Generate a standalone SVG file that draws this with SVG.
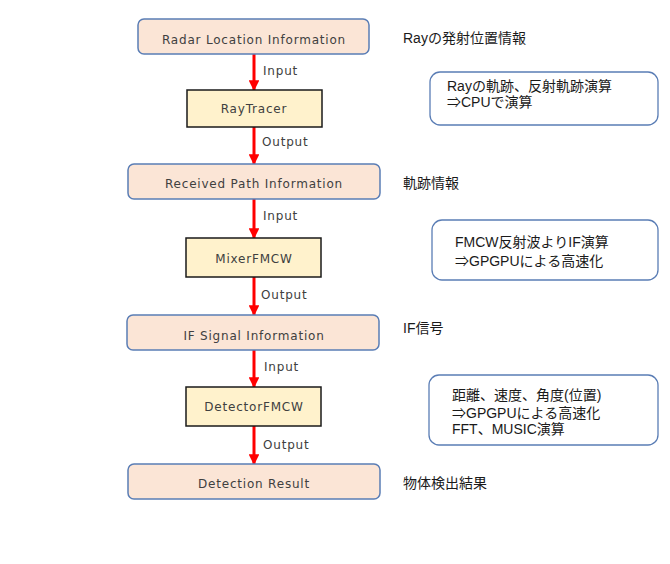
<svg xmlns="http://www.w3.org/2000/svg" width="670" height="564" viewBox="0 0 670 564">
<defs>
<style>
.data{fill:#FBE5D6;stroke:#5A7DB5;stroke-width:1.5}
.proc{fill:#FFF2CC;stroke:#1a1a1a;stroke-width:1.5}
.note{fill:#ffffff;stroke:#5A7DB5;stroke-width:1.3}
.nt{font-family:"DejaVu Sans",Verdana,sans-serif;font-size:12px;letter-spacing:0.8px;fill:#404040;text-anchor:middle}
.lbl{font-family:"DejaVu Sans",Verdana,sans-serif;font-size:12px;letter-spacing:0.8px;fill:#404040}
.jp{font-family:"Liberation Sans","Noto Sans CJK JP",sans-serif;font-size:14px;fill:#1a1a1a}
.arr{stroke:#FF0000;stroke-width:3;fill:none;marker-end:url(#ah)}
</style>
<marker id="ah" viewBox="0 0 10 10" refX="9" refY="5" markerWidth="3.6" markerHeight="3.6" markerUnits="strokeWidth" orient="auto">
<path d="M0,0 L10,5 L0,10 Z" fill="#FF0000"/>
</marker>
</defs>
<rect width="670" height="564" fill="#ffffff"/>
<g id="connectors">
<line class="arr" x1="254" y1="54" x2="254" y2="90"/>
<line class="arr" x1="254" y1="127" x2="254" y2="164"/>
<line class="arr" x1="254" y1="199" x2="254" y2="238"/>
<line class="arr" x1="254" y1="277" x2="254" y2="315"/>
<line class="arr" x1="254" y1="350" x2="254" y2="387"/>
<line class="arr" x1="254" y1="426" x2="254" y2="464"/>
<text class="lbl" x="263" y="75">Input</text>
<text class="lbl" x="262" y="146">Output</text>
<text class="lbl" x="263" y="220">Input</text>
<text class="lbl" x="261" y="299">Output</text>
<text class="lbl" x="264" y="371">Input</text>
<text class="lbl" x="263" y="449">Output</text>
</g>
<g id="radar-location">
<rect class="data" x="138" y="19" width="231" height="35" rx="6"/>
<text class="nt" x="254" y="44">Radar Location Information</text>
</g>
<g id="raytracer">
<rect class="proc" x="187" y="90" width="135" height="37"/>
<text class="nt" x="254" y="113">RayTracer</text>
</g>
<g id="received-path">
<rect class="data" x="128" y="164" width="252" height="35" rx="6"/>
<text class="nt" x="254" y="188">Received Path Information</text>
</g>
<g id="mixer">
<rect class="proc" x="186" y="238" width="135" height="39"/>
<text class="nt" x="254" y="263">MixerFMCW</text>
</g>
<g id="if-signal">
<rect class="data" x="127" y="315" width="252" height="35" rx="6"/>
<text class="nt" x="254" y="340">IF Signal Information</text>
</g>
<g id="detector">
<rect class="proc" x="186" y="387" width="135" height="39"/>
<text class="nt" x="254" y="411">DetectorFMCW</text>
</g>
<g id="detection-result">
<rect class="data" x="128" y="464" width="252" height="35" rx="6"/>
<text class="nt" x="254" y="488">Detection Result</text>
</g>
<g id="label-ray">
<text class="jp" x="403" y="43">Rayの発射位置情報</text>
</g>
<g id="note-cpu">
<rect class="note" x="430" y="72" width="228" height="53" rx="10"/>
<text class="jp" x="447" y="91">Rayの軌跡、反射軌跡演算</text>
<text class="jp" x="447" y="107">⇒CPUで演算</text>
</g>
<g id="label-path">
<text class="jp" x="403" y="188">軌跡情報</text>
</g>
<g id="note-if">
<rect class="note" x="432" y="220" width="226" height="60" rx="10"/>
<text class="jp" x="455" y="247">FMCW反射波よりIF演算</text>
<text class="jp" x="455" y="266">⇒GPGPUによる高速化</text>
</g>
<g id="label-if">
<text class="jp" x="403" y="333">IF信号</text>
</g>
<g id="note-detect">
<rect class="note" x="429" y="375" width="229" height="70" rx="10"/>
<text class="jp" x="452" y="400">距離、速度、角度(位置)</text>
<text class="jp" x="452" y="418">⇒GPGPUによる高速化</text>
<text class="jp" x="452" y="434">FFT、MUSIC演算</text>
</g>
<g id="label-result">
<text class="jp" x="403" y="488">物体検出結果</text>
</g>
</svg>
